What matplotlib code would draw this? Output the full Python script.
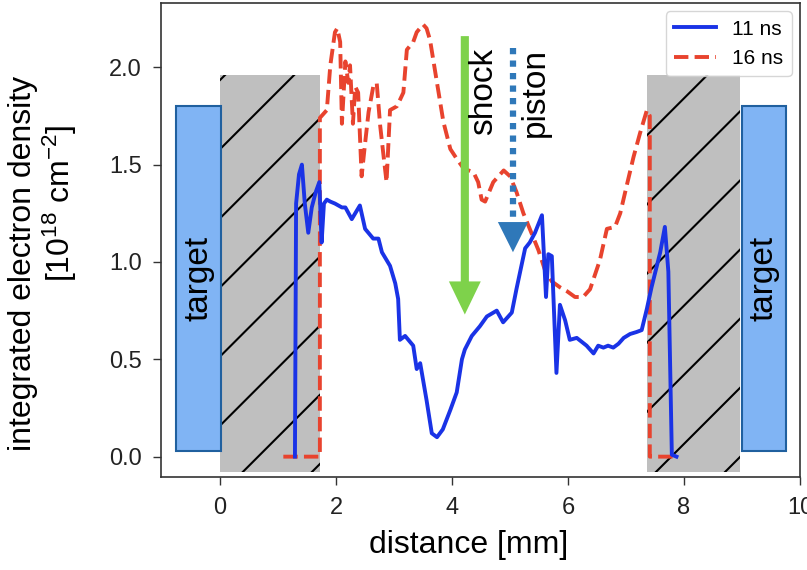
import numpy as np
import matplotlib
matplotlib.use("Agg")
import matplotlib.pyplot as plt
from matplotlib.patches import Rectangle

plt.rcParams['font.family'] = ['Liberation Sans', 'DejaVu Sans']
plt.rcParams['mathtext.fontset'] = 'custom'
plt.rcParams['mathtext.rm'] = 'Liberation Sans'
plt.rcParams['mathtext.it'] = 'Liberation Sans'

# density profiles
x11 = [1.29, 1.31, 1.36, 1.41, 1.46, 1.52, 1.58, 1.65, 1.71, 1.75, 1.79, 1.84, 1.90, 1.98,
       2.10, 2.16, 2.27, 2.41, 2.50, 2.64, 2.73, 2.79, 2.93, 3.02, 3.07, 3.10, 3.19, 3.33, 3.39,
       3.45, 3.56, 3.65, 3.74, 3.84, 3.97, 4.08, 4.17, 4.22, 4.34, 4.48, 4.60, 4.77, 4.88, 5.03,
       5.11, 5.26, 5.34, 5.43, 5.55, 5.62, 5.66, 5.72, 5.80, 5.86, 5.95, 6.03, 6.15, 6.32, 6.44,
       6.52, 6.61, 6.69, 6.78, 6.87, 6.96, 7.07, 7.18, 7.27, 7.36, 7.44, 7.59, 7.67, 7.73, 7.79, 7.87]
y11 = [0.0, 1.30, 1.45, 1.50, 1.30, 1.15, 1.28, 1.36, 1.41, 1.10, 1.30, 1.32, 1.31, 1.30,
       1.28, 1.28, 1.22, 1.29, 1.17, 1.12, 1.12, 1.05, 0.98, 0.89, 0.81, 0.60, 0.62, 0.57, 0.45,
       0.48, 0.29, 0.12, 0.10, 0.14, 0.24, 0.33, 0.50, 0.55, 0.62, 0.67, 0.72, 0.75, 0.69, 0.74,
       0.86, 1.07, 1.10, 1.15, 1.24, 0.82, 1.04, 1.03, 0.43, 0.78, 0.70, 0.60, 0.61, 0.57, 0.53,
       0.57, 0.56, 0.57, 0.56, 0.58, 0.61, 0.63, 0.64, 0.65, 0.76, 0.87, 1.05, 1.18, 0.95, 0.01, 0.0]

x16 = [1.09, 1.72, 1.72, 1.84, 1.90, 1.98, 2.02, 2.07, 2.10, 2.16, 2.21, 2.24, 2.29, 2.33, 2.38,
       2.44, 2.50, 2.56, 2.64, 2.70, 2.76, 2.82, 2.87, 2.93, 3.05, 3.16, 3.22, 3.33, 3.39, 3.50,
       3.56, 3.62, 3.74, 3.85, 3.97, 4.08, 4.20, 4.37, 4.45, 4.51, 4.57, 4.71, 4.89, 5.00, 5.11,
       5.23, 5.34, 5.49, 5.60, 5.72, 5.86, 5.98, 6.12, 6.26, 6.38, 6.55, 6.67, 6.81, 6.90, 7.01,
       7.13, 7.24, 7.36, 7.41, 7.41, 7.81]
y16 = [0.0, 0.0, 1.74, 1.78, 2.01, 2.18, 2.20, 2.13, 1.71, 2.03, 1.92, 2.01, 1.71, 1.90, 1.87,
       1.44, 1.61, 1.77, 1.90, 1.92, 1.70, 1.54, 1.41, 1.78, 1.80, 1.87, 2.09, 2.13, 2.18, 2.22,
       2.20, 2.14, 1.92, 1.72, 1.58, 1.53, 1.48, 1.46, 1.41, 1.32, 1.31, 1.41, 1.47, 1.44, 1.36,
       1.25, 1.17, 1.06, 0.96, 0.90, 0.87, 0.85, 0.82, 0.82, 0.86, 1.01, 1.17, 1.18, 1.25, 1.39,
       1.54, 1.66, 1.78, 1.75, 0.0, 0.0]

labels = ['11 ns', '16 ns']

# regions (x0, x1, y0, y1)
gray_regions = [(0.0, 1.72, -0.08, 1.96), (7.36, 8.97, -0.08, 1.96)]
hatch_phase = [0.16, 0.23]
targets = [(-0.76, 0.02, 0.03, 1.80), (9.0, 9.76, 0.03, 1.80)]

# arrows: x, top, tip
shock_arrow = (4.22, 2.16, 0.73)
piston_arrow = (5.05, 2.10, 1.05)

fig = plt.figure(figsize=(8.07, 5.70), dpi=100)
ax = fig.add_axes([0.1995, 0.163, 0.7918, 0.8317])
xmin, xmax, ymin, ymax = -1.02, 10.0, -0.105, 2.33
ax.set_xlim(xmin, xmax)
ax.set_ylim(ymin, ymax)

# slope for 45 degree hatch lines in data units
bb = ax.get_window_extent()
k = (bb.width / (xmax - xmin)) / (bb.height / (ymax - ymin))
spacing = 0.355

for (x0, x1, y0, y1), ph in zip(gray_regions, hatch_phase):
    r = Rectangle((x0, y0), x1 - x0, y1 - y0, facecolor='#bfbfbf', edgecolor='none', zorder=1)
    ax.add_patch(r)
    xs = np.array([x0, x1])
    for off in np.arange(ph - 3 * spacing, y1 - y0 + 2 * spacing, spacing):
        ln, = ax.plot(xs, off + k * (xs - x0), color='black', lw=1.5, zorder=1.5)
        ln.set_clip_path(r)

for (x0, x1, y0, y1) in targets:
    ax.add_patch(Rectangle((x0, y0), x1 - x0, y1 - y0, facecolor='#80b4f4',
                           edgecolor='#20609f', lw=1.5, zorder=3))
    ax.text((x0 + x1) / 2, (y0 + y1) / 2, 'target', rotation=90, ha='center', va='center',
            fontsize=24, zorder=4)

ax.plot(x11, y11, color='#1a33e6', lw=2.8, label=labels[0], zorder=2.2)
ax.plot(x16, y16, color='#e8432e', lw=2.8, ls='--', label=labels[1], zorder=2.1)

# shock arrow
xa, ya, yt = shock_arrow
ax.arrow(xa, ya, 0, yt - ya, width=0.14, head_width=0.55, head_length=0.17,
         length_includes_head=True, color='#7ed24b', lw=0, zorder=5)
ax.text(4.28, 2.10, 'shock', rotation=90, ha='left', va='top', fontsize=24, zorder=6)

# piston arrow (dotted shaft, solid head)
xa, ya, yt = piston_arrow
hl = 0.155
ax.plot([xa, xa], [ya, yt + hl], color='#2f78b9', lw=4.5, ls=(0, (1, 1)),
        dash_capstyle='butt', zorder=5)
ax.arrow(xa, yt + hl, 0, -hl, width=0.0, head_width=0.52, head_length=hl,
         length_includes_head=True, color='#2f78b9', lw=0, zorder=5)
ax.text(5.17, 2.10, 'piston', rotation=90, ha='left', va='top', fontsize=24, zorder=6)

ax.set_xticks([0, 2, 4, 6, 8, 10])
ax.set_yticks([0.0, 0.5, 1.0, 1.5, 2.0])
ax.set_yticklabels(['0.0', '0.5', '1.0', '1.5', '2.0'])
ax.tick_params(labelsize=17, length=6, width=1, pad=8, color='#333333', labelcolor='#222222')
for s in ax.spines.values():
    s.set_color('#333333')
    s.set_linewidth(1.2)

ax.set_xlabel('distance [mm]', fontsize=23)
ax.xaxis.set_label_coords(0.482, -0.112)
ax.set_ylabel('integrated electron density', fontsize=23)
ax.yaxis.set_label_coords(-0.192, 0.451)
ax.text(-0.128, 0.578, r'[10$^{18}$ cm$^{-2}$]', rotation=90, ha='center', va='bottom',
        rotation_mode='anchor', fontsize=23, transform=ax.transAxes)

leg = ax.legend(loc='upper right', fontsize=15, frameon=True, fancybox=True,
                borderaxespad=0.4, handlelength=2.0)
leg.get_frame().set_edgecolor('#cccccc')
leg.set_zorder(10)

fig.savefig('out.png', dpi=100)
